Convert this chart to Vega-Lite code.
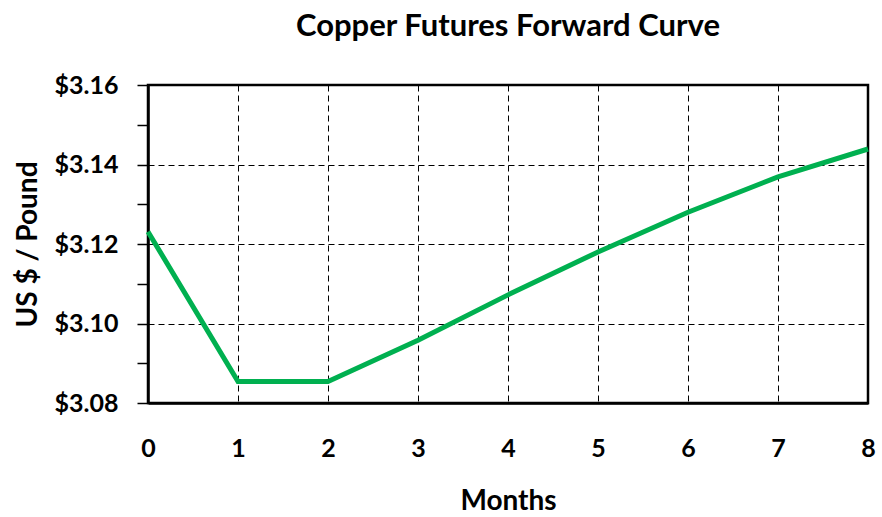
{
  "$schema": "https://vega.github.io/schema/vega-lite/v6.json",
  "width": 720,
  "height": 318,
  "autosize": {"type": "none"},
  "padding": {"left": 148, "top": 85, "right": 14, "bottom": 114},
  "background": "white",
  "title": {
    "text": "Copper Futures Forward Curve",
    "font": "Lato",
    "fontSize": 31,
    "fontWeight": "bold",
    "color": "black",
    "anchor": "middle",
    "offset": 30
  },
  "data": {
    "values": [
      {"month": 0, "price": 3.1231},
      {"month": 1, "price": 3.0854},
      {"month": 2, "price": 3.0854},
      {"month": 3, "price": 3.0958},
      {"month": 4, "price": 3.1072},
      {"month": 5, "price": 3.118},
      {"month": 6, "price": 3.128},
      {"month": 7, "price": 3.1369},
      {"month": 8, "price": 3.1439}
    ]
  },
  "config": {
    "view": {"stroke": "black", "strokeWidth": 2.5},
    "font": "Lato"
  },
  "mark": {"type": "line", "color": "#00B050", "strokeWidth": 5, "clip": false},
  "encoding": {
    "x": {
      "field": "month",
      "type": "quantitative",
      "scale": {"domain": [0, 8], "nice": false, "zero": false},
      "axis": {
        "title": "Months",
        "values": [0, 1, 2, 3, 4, 5, 6, 7, 8],
        "format": "d",
        "ticks": false,
        "domainColor": "black",
        "domainWidth": 2.5,
        "grid": true,
        "gridColor": "black",
        "gridDash": [6, 4],
        "gridWidth": 1,
        "gridOpacity": 1,
        "labelFont": "Lato",
        "labelFontSize": 25,
        "labelFontWeight": "bold",
        "labelColor": "black",
        "labelPadding": 33,
        "labelFlush": false,
        "titleFont": "Lato",
        "titleFontSize": 28,
        "titleFontWeight": "bold",
        "titleColor": "black",
        "titlePadding": 26
      }
    },
    "y": {
      "field": "price",
      "type": "quantitative",
      "scale": {"domain": [3.08, 3.16], "nice": false, "zero": false},
      "axis": {
        "title": "US $ / Pound",
        "values": [3.08, 3.09, 3.10, 3.11, 3.12, 3.13, 3.14, 3.15, 3.16],
        "labelExpr": "round(datum.value*100) % 2 == 0 ? '$' + format(datum.value, '.2f') : ''",
        "ticks": true,
        "tickSize": 11,
        "tickColor": "black",
        "tickWidth": 1.5,
        "domainColor": "black",
        "domainWidth": 2.5,
        "grid": true,
        "gridColor": "black",
        "gridDash": [6, 4],
        "gridWidth": 1,
        "gridOpacity": {"condition": {"test": "round(datum.value*100) % 2 == 0", "value": 1}, "value": 0},
        "labelFont": "Lato",
        "labelFontSize": 25,
        "labelFontWeight": "bold",
        "labelColor": "black",
        "labelPadding": 19,
        "labelFlush": false,
        "titleFont": "Lato",
        "titleFontSize": 28,
        "titleFontWeight": "bold",
        "titleColor": "black",
        "titlePadding": 12
      }
    }
  }
}
